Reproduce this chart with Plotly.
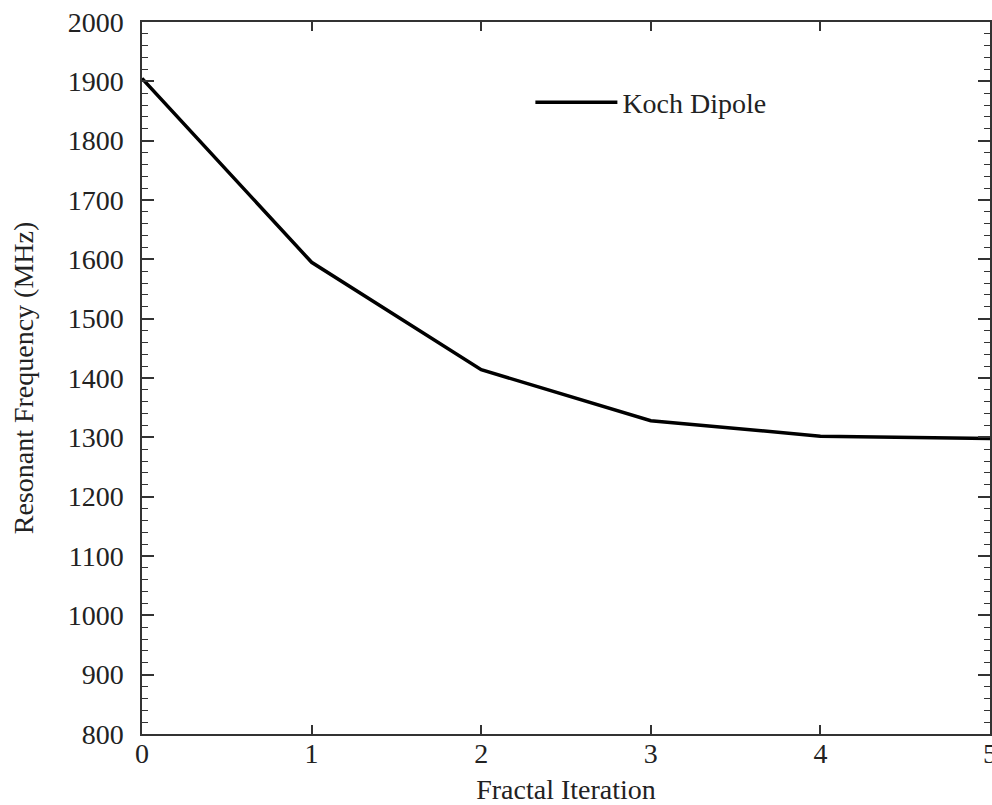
import plotly.graph_objects as go

iterations = [0, 1, 2, 3, 4, 5]
resonant_freq = [1905, 1595, 1414, 1328, 1302, 1298]
series_name = "Koch Dipole"
y_ticks = list(range(800, 2001, 100))
x_ticks = [0, 1, 2, 3, 4, 5]

font = dict(family="Liberation Serif, Times New Roman, serif", size=28, color="#222")

fig = go.Figure()
fig.add_trace(go.Scatter(x=iterations, y=resonant_freq, mode="lines", name=series_name,
                         line=dict(color="black", width=3.5)))

axis_common = dict(showgrid=False, zeroline=False, showline=True, linecolor="#333", linewidth=1.5,
                   mirror="ticks", ticks="inside", tickcolor="#333", tickwidth=1.5,
                   tickfont=font, automargin=False, ticklabeloverflow="allow")
fig.update_xaxes(range=[0, 5], tickvals=x_ticks, ticklen=9, ticklabelstandoff=-6,
                 title=dict(text="Fractal Iteration", font=font, standoff=19), **axis_common)
fig.update_yaxes(range=[800, 2000], tickvals=y_ticks, ticklen=12, ticklabelstandoff=11,
                 minor=dict(dtick=20, ticks="inside", ticklen=6, tickcolor="#333", tickwidth=1.2),
                 title=dict(text="Resonant Frequency (MHz)", font=font, standoff=26), **axis_common)

fig.update_layout(width=992, height=805, margin=dict(l=142, r=2, t=22, b=71),
                  plot_bgcolor="white", paper_bgcolor="white", font=font,
                  showlegend=True,
                  legend=dict(x=0.458, y=0.887, xanchor="left", yanchor="middle",
                              bgcolor="rgba(0,0,0,0)", font=font, itemwidth=82))
fig.write_html("out.html", post_script="document.body.style.margin='0';",
               config={"displayModeBar": False})
